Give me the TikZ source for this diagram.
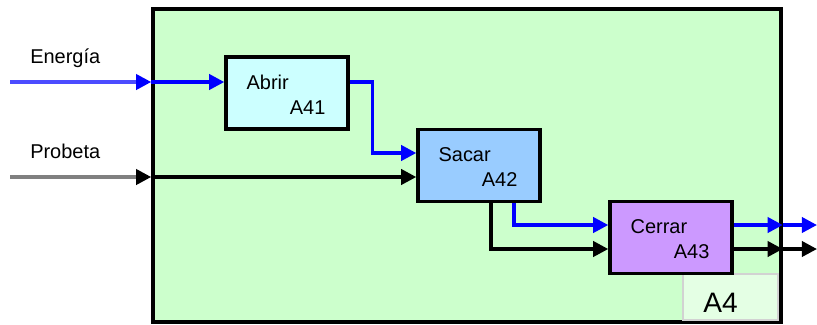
\documentclass[tikz,border=0pt]{standalone}
\usepackage{fontspec}
\setmainfont{Liberation Sans}
\usetikzlibrary{arrows.meta,calc}

\definecolor{framegreen}{HTML}{CCFFCC}
\definecolor{tagfill}{HTML}{E4FFE4}
\definecolor{abrirfill}{HTML}{CCFFFF}
\definecolor{sacarfill}{HTML}{99CCFF}
\definecolor{cerrarfill}{HTML}{CC99FF}
\definecolor{flowblue}{HTML}{0000FF}

\begin{document}
\begin{tikzpicture}[x=0.025cm,y=-0.025cm,
    frame/.style={draw,line width=2.4pt,fill=framegreen,minimum width=15.7cm,minimum height=7.825cm,inner sep=0pt},
    act/.style={draw,line width=2.4pt,minimum width=3.05cm,minimum height=1.8cm,inner sep=0pt},
    tag/.style={draw=gray!35,line width=0.8pt,fill=tagfill,minimum width=2.375cm,minimum height=1.15cm,inner sep=0pt},
    txt/.style={font=\fontsize{14.2}{17}\selectfont,inner sep=0pt},
    bigtxt/.style={font=\fontsize{20}{24}\selectfont,inner sep=0pt},
    flow/.style={line width=2.5pt,-{Triangle[length=0.38cm,width=0.38cm]}},
    eflow/.style={flow,flowblue},
    pflow/.style={flow,black},
    einflow/.style={line width=2.5pt,draw=flowblue!70,-{Triangle[length=0.38cm,width=0.38cm,color=flowblue]}},
    pinflow/.style={line width=2.5pt,draw=gray,-{Triangle[length=0.38cm,width=0.38cm,color=black]}}
]
\useasboundingbox (0,0) rectangle (817,324);

\node[frame] (frame) at (467,165.5) {};
\node[tag] (tag) at (730.5,297) {};
\node[bigtxt,anchor=base west] (tagtxt) at (703,312) {A4};

% actividades
\node[act,fill=abrirfill] (abrir) at (287,93) {};
\node[act,fill=sacarfill] (sacar) at (479,165.5) {};
\node[act,fill=cerrarfill] (cerrar) at (671,237.5) {};

\node[txt,anchor=base west] (abrirT) at ($(abrir.west)+(22,-4)$) {Abrir};
\node[txt,anchor=base east] (abrirC) at ($(abrir.east)+(-24,21)$) {A41};
\node[txt,anchor=base west] (sacarT) at ($(sacar.west)+(22,-4)$) {Sacar};
\node[txt,anchor=base east] (sacarC) at ($(sacar.east)+(-24,21)$) {A42};
\node[txt,anchor=base west] (cerrarT) at ($(cerrar.west)+(22,-4)$) {Cerrar};
\node[txt,anchor=base east] (cerrarC) at ($(cerrar.east)+(-24,21)$) {A43};

% entradas
\coordinate (e0) at (10,82);
\coordinate (p0) at (10,177);
\node[txt,anchor=base west] (energia) at ($(e0)+(20,-19)$) {Energía};
\node[txt,anchor=base west] (probeta) at ($(p0)+(20,-19)$) {Probeta};

\draw[einflow] (e0) -- (frame.west |- e0);
\draw[pinflow] (p0) -- (frame.west |- p0);
\draw[eflow] (frame.west |- e0) -- (abrir.west |- e0);
\draw[pflow] (frame.west |- p0) -- (sacar.west |- p0);

% entre actividades
\draw[eflow] (abrir.east |- e0) -| ($(abrir.east)+(23,60)$) -- ($(sacar.west)+(0,-12.5)$);
\draw[eflow] ($(sacar.south)+(35,0)$) |- ($(cerrar.west)+(0,-12.5)$);
\draw[pflow] ($(sacar.south)+(12,0)$) |- ($(cerrar.west)+(0,11.5)$);

% salidas
\coordinate (s1) at (817,225);
\coordinate (s2) at (817,249);
\draw[eflow] (cerrar.east |- s1) -- (frame.east |- s1);
\draw[pflow] (cerrar.east |- s2) -- (frame.east |- s2);
\draw[eflow] (frame.east |- s1) -- (s1);
\draw[pflow] (frame.east |- s2) -- (s2);
\end{tikzpicture}
\end{document}
